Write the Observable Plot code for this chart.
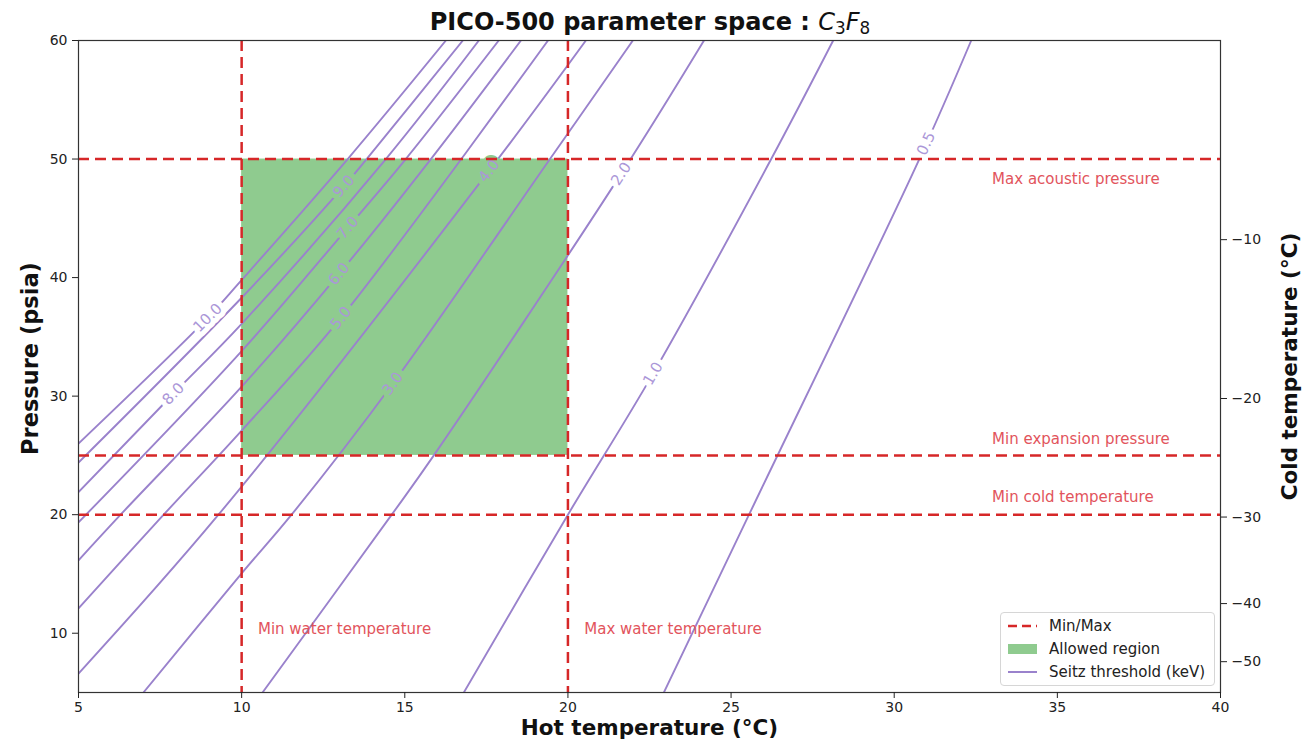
<!DOCTYPE html>
<html>
<head>
<meta charset="utf-8">
<script src="https://cdn.jsdelivr.net/npm/d3@7"></script>
<script src="https://cdn.jsdelivr.net/npm/@observablehq/plot@0.6"></script>
<style>
  body { margin: 0; background: #fff; }
  #chart { position: relative; width: 1311px; height: 746px; font-family: "DejaVu Sans", sans-serif; color: #222; background: #fff; }
  #title { position: absolute; z-index: 2; left: 0; top: 7px; width: 1300px; text-align: center; font-size: 24px; line-height: 30px; color: #111; white-space: nowrap; }
  #title b { font-weight: bold; }
  #title .m { font-style: italic; font-weight: normal; }
  #title sub { font-size: 0.7em; vertical-align: -0.25em; line-height: 0; font-style: normal; font-weight: normal; }
  #plot { position: absolute; z-index: 1; left: 0; top: 30px; }
  #legend { position: absolute; z-index: 3; left: 1000px; top: 612px; width: 215px; height: 74px; box-sizing: border-box;
            border: 1px solid #d6d6d6; border-radius: 4px; background: rgba(255,255,255,0.85);
            font-size: 15px; color: #222; padding-top: 1px; }
  #legend .row { height: 23px; display: flex; align-items: center; white-space: nowrap; }
  #legend svg { margin-left: 6px; margin-right: 11px; flex: none; }
</style>
</head>
<body>
<div id="chart">
  <div id="title"><b>PICO-500 parameter space : </b><span class="m">C</span><sub>3</sub><span class="m">F</span><sub>8</sub></div>
  <div id="plot"></div>
  <div id="legend">
    <div class="row"><svg width="31" height="12"><line x1="1" y1="6" x2="30" y2="6" stroke="#d62728" stroke-width="2.5" stroke-dasharray="9,5"/></svg><span>Min/Max</span></div>
    <div class="row"><svg width="31" height="12"><rect x="1" y="1" width="29" height="10" fill="#8fcb8f"/></svg><span>Allowed region</span></div>
    <div class="row"><svg width="31" height="12"><line x1="1" y1="6" x2="30" y2="6" stroke="#9a82cc" stroke-width="2"/></svg><span>Seitz threshold (keV)</span></div>
  </div>
</div>
<script>
// Axis ticks
const hotTicks = [5, 10, 15, 20, 25, 30, 35, 40];
const pressureTicks = [10, 20, 30, 40, 50, 60];
// Cold temperature (°C) and the C3F8 vapour pressure (psia) it corresponds to
const coldTempLabels = [-10, -20, -30, -40, -50];
const coldTempPressure = [43.2, 29.8, 19.8, 12.5, 7.6];

// Operating limits
const waterTempLimits = [10, 20];      // min / max water (hot) temperature, °C
const pressureLimits = [25, 50];       // min expansion / max acoustic pressure, psia
const minColdPressure = 20;            // pressure at the minimum cold temperature, psia

// Seitz threshold contours (keV): hot temperature (°C) and pressure (psia) along each curve
const seitzThresholds = [10, 9, 8, 7, 6, 5, 4, 3, 2, 1, 0.5];
const seitzHot = [
  [5.00, 8.96, 9.97, 13.25, 16.26],
  [5.00, 10.00, 13.13, 13.83, 16.78],
  [5.00, 7.91, 10.00, 14.42, 17.27],
  [5.00, 10.00, 13.25, 15.03, 17.88],
  [5.00, 6.29, 10.00, 12.98, 15.80, 18.56],
  [5.00, 7.61, 10.00, 13.04, 19.39],
  [5.00, 9.29, 17.58, 20.55],
  [6.99, 10.00, 11.53, 14.63, 19.45, 21.99],
  [10.64, 14.60, 15.89, 21.63, 24.17],
  [16.81, 20.00, 22.61, 26.23, 28.13],
  [22.94, 25.55, 30.77, 32.36]
];
const seitzPressure = [
  [26.0, 36.6, 39.7, 50.0, 60.0],
  [24.4, 38.3, 47.7, 50.0, 60.0],
  [21.9, 30.2, 36.1, 50.0, 60.0],
  [19.35, 33.8, 44.2, 50.0, 60.0],
  [16.15, 20.0, 30.8, 40.3, 50.0, 60.0],
  [12.1, 20.0, 27.1, 36.6, 60.0],
  [6.6, 20.0, 49.0, 60.0],
  [5.0, 15.05, 20.0, 31.05, 50.0, 60.0],
  [5.0, 20.0, 25.0, 48.75, 60.0],
  [5.0, 20.0, 31.9, 50.0, 60.0],
  [5.0, 20.0, 50.0, 60.0]
];
// Where each contour carries its inline label
const seitzLabelHot = [8.96, 13.13, 7.91, 13.25, 12.98, 13.04, 17.58, 14.63, 21.63, 22.61, 30.98];
const seitzLabelPressure = [36.6, 47.7, 30.2, 44.2, 40.3, 36.6, 49.0, 31.05, 48.75, 31.9, 51.3];

// Limit annotations
const noteText = ["Max acoustic pressure", "Min expansion pressure", "Min cold temperature",
                  "Min water temperature", "Max water temperature"];
const noteHot = [33, 33, 33, 10.5, 20.5];
const notePressure = [48.3, 26.4, 21.45, 10.35, 10.35];

// ---- layout
const W = 1311, H = 716;
const mTop = 10, mBottom = 54, mLeft = 78, mRight = 91;
const xDomain = [5, 40], yDomain = [5, 60];
const kx = (W - mLeft - mRight) / (xDomain[1] - xDomain[0]);
const ky = (H - mTop - mBottom) / (yDomain[1] - yDomain[0]);

const red = "#d62728";
const green = "#8fcb8f";
const purple = "#9a82cc";

const allowed = [{x1: waterTempLimits[0], x2: waterTempLimits[1], y1: pressureLimits[0], y2: pressureLimits[1]}];

const contourRows = seitzThresholds.flatMap((t, i) =>
  seitzHot[i].map((h, j) => ({t, hot: h, p: seitzPressure[i][j]})));

// label orientation follows the local direction of its curve on screen
const contourLabels = seitzThresholds.map((t, i) => {
  const hs = seitzHot[i], ps = seitzPressure[i];
  const lx = seitzLabelHot[i], ly = seitzLabelPressure[i];
  let k = 0, best = Infinity;
  hs.forEach((h, j) => { const d = Math.abs(h - lx); if (d < best) { best = d; k = j; } });
  const a = Math.max(0, k - 1), b = Math.min(hs.length - 1, k + 1);
  const ang = -Math.atan2((ps[b] - ps[a]) * ky, (hs[b] - hs[a]) * kx) * 180 / Math.PI;
  const inside = lx > waterTempLimits[0] && lx < waterTempLimits[1] && ly > pressureLimits[0] && ly < pressureLimits[1];
  return {text: t.toFixed(1), hot: lx, p: ly, rotate: ang, halo: inside ? green : "white"};
});

const notes = noteText.map((s, i) => ({s, hot: noteHot[i], p: notePressure[i]}));
const coldFmt = d3.format("d");
const coldLabelOf = new Map(coldTempPressure.map((p, i) => [p, coldFmt(coldTempLabels[i])]));

const chart = Plot.plot({
  width: W, height: H,
  marginTop: mTop, marginBottom: mBottom, marginLeft: mLeft, marginRight: mRight,
  style: {fontFamily: "DejaVu Sans, sans-serif", fontSize: "14px", color: "#222", background: "transparent", overflow: "visible"},
  x: {domain: xDomain, axis: null},
  y: {domain: yDomain, axis: null},
  marks: [
    Plot.rect(allowed, {x1: "x1", x2: "x2", y1: "y1", y2: "y2", fill: green}),
    Plot.line(contourRows, {x: "hot", y: "p", z: "t", stroke: purple, strokeWidth: 1.9, curve: "catmull-rom", clip: true}),
    Plot.text(contourLabels, {x: "hot", y: "p", text: "text", rotate: "rotate", fill: "#ab97d8",
      stroke: "halo", strokeWidth: 10, paintOrder: "stroke", fontSize: 15}),
    Plot.ruleX(waterTempLimits, {stroke: red, strokeWidth: 2.5, strokeDasharray: "11,6"}),
    Plot.ruleY([...pressureLimits, minColdPressure], {stroke: red, strokeWidth: 2.5, strokeDasharray: "11,6"}),
    Plot.text(notes, {x: "hot", y: "p", text: "s", textAnchor: "start", fill: "#e2545c", fontSize: 15}),
    Plot.frame({stroke: "#333", strokeWidth: 1.2}),
    Plot.axisX(hotTicks, {tickSize: 6, tickPadding: 4, label: null, fontSize: 14}),
    Plot.axisY(pressureTicks, {anchor: "left", tickSize: 6, tickPadding: 5, label: null, fontSize: 14}),
    Plot.axisY(coldTempPressure, {anchor: "right", tickSize: 6, tickPadding: 5, label: null, fontSize: 14,
      tickFormat: d => coldLabelOf.get(d)}),
    Plot.text(["Hot temperature (°C)"], {text: d => d, frameAnchor: "bottom", dy: 42, fontSize: 21.5, fontWeight: "bold", fill: "#111"}),
    Plot.text(["Pressure (psia)"], {text: d => d, frameAnchor: "left", textAnchor: "middle", dx: -48, dy: -8, rotate: -90, fontSize: 22.5, fontWeight: "bold", fill: "#111"}),
    Plot.text(["Cold temperature (°C)"], {text: d => d, frameAnchor: "right", textAnchor: "middle", dx: 70, rotate: -90, fontSize: 21.5, fontWeight: "bold", fill: "#111"})
  ]
});
document.getElementById("plot").appendChild(chart);
</script>
</body>
</html>
